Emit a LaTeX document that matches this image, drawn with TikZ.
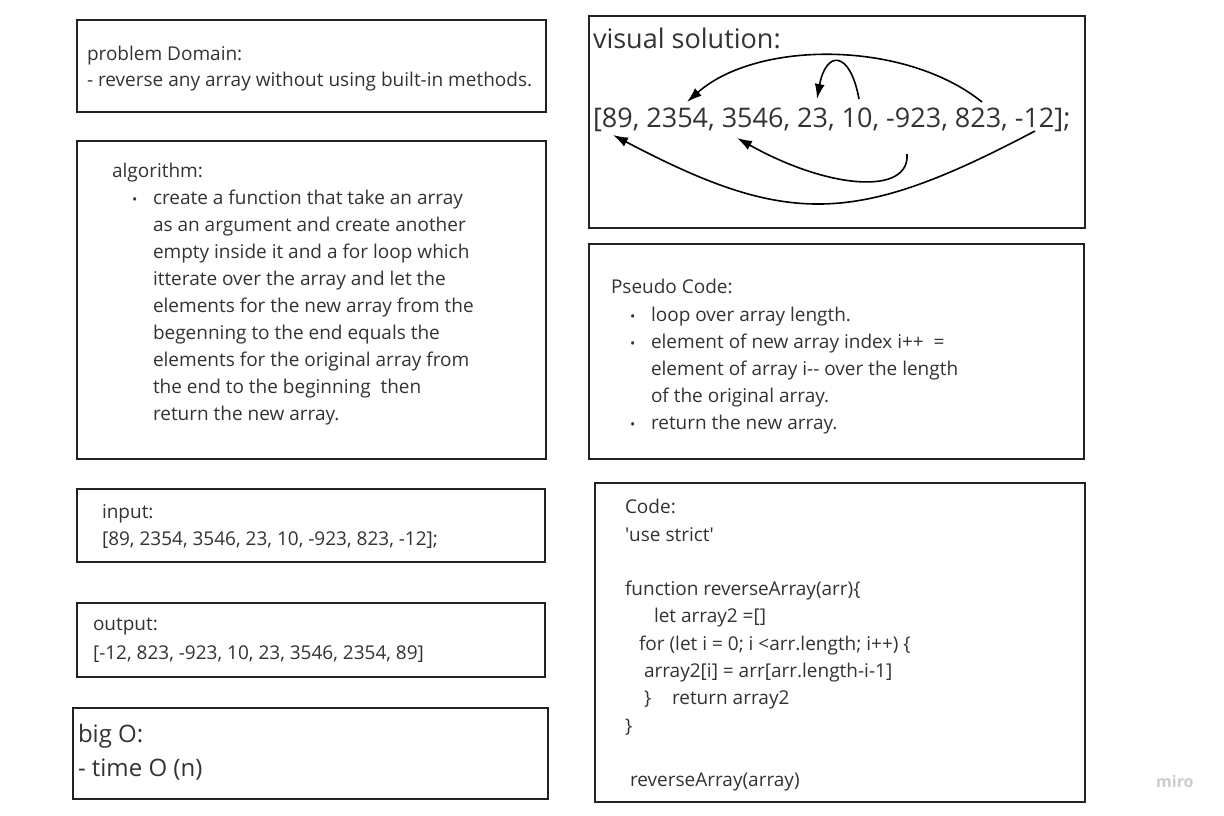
\documentclass[tikz,border=0pt]{standalone}
\usepackage{fontspec}
\setmainfont{Open Sans}
\usetikzlibrary{arrows.meta}
\definecolor{edge}{HTML}{222222}
\definecolor{ink}{HTML}{333333}
\begin{document}
\begin{tikzpicture}[x=1pt,y=-1pt,
  box/.style={draw=edge, line width=2.5pt, fill=white, anchor=north west, inner sep=0pt, outer sep=0pt},
  txt/.style={anchor=base west, inner sep=0pt, outer sep=0pt, text=ink, font=\fontsize{19}{27}\selectfont},
  big/.style={txt, font=\fontsize{27}{34}\selectfont},
  mid/.style={txt, font=\fontsize{24}{34}\selectfont},
  dot/.style={txt, font=\fontsize{14}{27}\selectfont},
  arr/.style={line width=1.6pt, -{Latex[length=15pt,width=10pt]}}]
\useasboundingbox (0,0) rectangle (1224,816);
% boxes
\node[box, minimum width=469pt, minimum height=92pt] (pd) at (77,20) {};
\node[box, minimum width=469pt, minimum height=318pt] (alg) at (77,141) {};
\node[box, minimum width=468pt, minimum height=73pt] (inp) at (77,489) {};
\node[box, minimum width=468pt, minimum height=74pt] (outp) at (77,603) {};
\node[box, minimum width=475pt, minimum height=91pt] (bigo) at (73,708) {};
\node[box, minimum width=496pt, minimum height=212pt] (vis) at (589,16) {};
\node[box, minimum width=495pt, minimum height=215pt] (pseudo) at (589,244) {};
\node[box, minimum width=490pt, minimum height=319pt] (code) at (595,483) {};
% problem domain
\node[txt] (pd1) at (87,60) {problem Domain:};
\node[txt] (pd2) at (87,87) {- reverse any array without using built-in methods.};
% algorithm
\node[txt] (al0) at (112,177) {algorithm:};
\node[dot] (alb) at (132,204) {•};
\node[txt] (al1) at (153,204) {create a function that take an array};
\node[txt] (al2) at (153,231) {as an argument and create another};
\node[txt] (al3) at (153,258) {empty inside it and a for loop which};
\node[txt] (al4) at (153,285) {itterate over the array and let the};
\node[txt] (al5) at (153,312) {elements for the new array from the};
\node[txt] (al6) at (153,339) {begenning to the end equals the};
\node[txt] (al7) at (153,366) {elements for the original array from};
\node[txt] (al8) at (153,393) {the end to the beginning\ \ then};
\node[txt] (al9) at (153,420) {return the new array.};
% input / output
\node[txt] (in1) at (102,518) {input:};
\node[txt] (in2) at (102,545) {[89, 2354, 3546, 23, 10, -923, 823, -12];};
\node[txt] (ou1) at (93,630) {output:};
\node[txt] (ou2) at (93,659) {[-12, 823, -923, 10, 23, 3546, 2354, 89]};
% big O
\node[mid] (bo1) at (78,742) {big O:};
\node[mid] (bo2) at (78,776) {- time O (n)};
% visual solution
\node[big] (vs1) at (593,49) {visual solution:};
\node[big] (vs2) at (593,128) {[89, 2354, 3546, 23, 10, -923, 823, -12];};
\coordinate (a1s) at (982,102); \coordinate (a1e) at (687,102);
\coordinate (a2s) at (859,99);  \coordinate (a2e) at (817,99);
\coordinate (a3s) at (907,154); \coordinate (a3e) at (737,138);
\coordinate (a4s) at (1035,131); \coordinate (a4e) at (613,135);
\draw[arr] (a1s) .. controls (905,40) and (757,40) .. (a1e);
\draw[arr] (a2s) .. controls (850,50) and (826,50) .. (a2e);
\draw[arr] (a3s) .. controls (910,195) and (830,190) .. (a3e);
\draw[arr] (a4s) .. controls (855,226) and (788,227) .. (a4e);
% pseudo code
\node[txt] (ps0) at (611,293) {Pseudo Code:};
\node[dot] (psb1) at (630,321) {•};
\node[txt] (ps1) at (651,321) {loop over array length.};
\node[dot] (psb2) at (630,348) {•};
\node[txt] (ps2) at (651,348) {element of new array index i++\ \ =};
\node[txt] (ps3) at (651,375) {element of array i-{}- over the length};
\node[txt] (ps4) at (651,402) {of the original array.};
\node[dot] (psb3) at (630,429) {•};
\node[txt] (ps5) at (651,429) {return the new array.};
% code
\node[txt] (c0) at (625,513) {Code:};
\node[txt] (c1) at (625,541) {\textquotesingle use strict\textquotesingle};
\node[txt] (c2) at (625,595) {function reverseArray(arr)\{};
\node[txt] (c3) at (654,622) {let array2 =[]};
\node[txt] (c4) at (639,650) {for (let i = 0; i <arr.length; i++) \{};
\node[txt] (c5) at (644,677) {array2[i] = arr[arr.length-i-1]};
\node[txt] (c6) at (644,704) {\}};
\node[txt] (c6b) at (672,704) {return array2};
\node[txt] (c7) at (625,732) {\}};
\node[txt] (c8) at (630,786) {reverseArray(array)};
% watermark
\node[anchor=base west, inner sep=0pt, text=black!20, font=\fontsize{16}{16}\selectfont\bfseries] (miro) at (1156,787) {miro};
\end{tikzpicture}
\end{document}
